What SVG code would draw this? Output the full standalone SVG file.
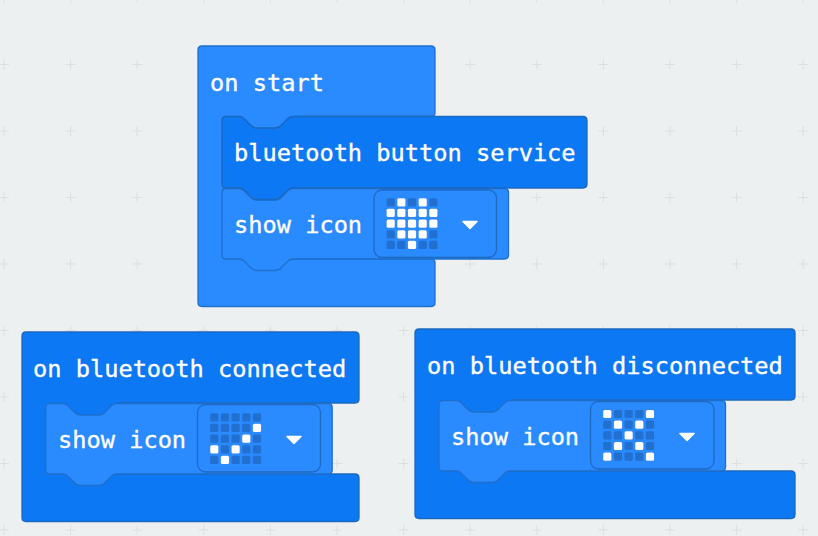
<svg xmlns="http://www.w3.org/2000/svg" xmlns:xlink="http://www.w3.org/1999/xlink" width="818" height="536" viewBox="0 0 818 536">
<style>
.bg{fill:#ecf0f1}
.light{fill:#2a8aff;stroke:#1f6fcc;stroke-width:1.3}
.dark{fill:#0d78f3;stroke:#1b68bf;stroke-width:1.3}
.field{fill:#2a8aff;stroke:#1e6ac0;stroke-width:1.3}
text{font-family:"DejaVu Sans Mono","Liberation Mono",monospace;font-size:23.65px;fill:#fff;stroke:#fff;stroke-width:.35}
.off{fill:#2170cf}
.on{fill:#fff}
.arrow{fill:#fff;stroke:#fff;stroke-width:1.5;stroke-linejoin:round}
.cross{stroke:#dcdfe1;stroke-width:1;fill:none}
</style>
<defs>
<path id="p" d="M-5 0H5M0 -5V5"/>
<rect id="c" x="-.1" y="-.1" width="8.200" height="8.200" rx="1.500"/>
<g id="board" class="off">
<use xlink:href="#c" x="0" y="0"/><use xlink:href="#c" x="10.67" y="0"/><use xlink:href="#c" x="21.33" y="0"/><use xlink:href="#c" x="32" y="0"/><use xlink:href="#c" x="42.67" y="0"/>
<use xlink:href="#c" x="0" y="10.67"/><use xlink:href="#c" x="10.67" y="10.67"/><use xlink:href="#c" x="21.33" y="10.67"/><use xlink:href="#c" x="32" y="10.67"/><use xlink:href="#c" x="42.67" y="10.67"/>
<use xlink:href="#c" x="0" y="21.33"/><use xlink:href="#c" x="10.67" y="21.33"/><use xlink:href="#c" x="21.33" y="21.33"/><use xlink:href="#c" x="32" y="21.33"/><use xlink:href="#c" x="42.67" y="21.33"/>
<use xlink:href="#c" x="0" y="32"/><use xlink:href="#c" x="10.67" y="32"/><use xlink:href="#c" x="21.33" y="32"/><use xlink:href="#c" x="32" y="32"/><use xlink:href="#c" x="42.67" y="32"/>
<use xlink:href="#c" x="0" y="42.67"/><use xlink:href="#c" x="10.67" y="42.67"/><use xlink:href="#c" x="21.33" y="42.67"/><use xlink:href="#c" x="32" y="42.67"/><use xlink:href="#c" x="42.67" y="42.67"/>
</g>
<path id="tri" d="M0 0H14L7 7Z"/>
<path id="stmt" d="M4 0H17.500Q20 0 22 2L28 8Q31 11.500 35 11.500H53Q57 11.500 60 8L66 2Q68 0 70.500 0H282.500Q286.500 0 286.500 4V66.500Q286.500 70.500 282.500 70.500H70.500Q68 70.500 66 72.500L60 78.500Q57 82 53 82H35Q31 82 28 78.500L22 72.500Q20 70.500 17.500 70.500H4Q0 70.500 0 66.500V4Q0 0 4 0Z"/>
</defs>
<rect class="bg" width="818" height="536"/>
<g id="grid" class="cross">
<use xlink:href="#p" x="4" y="-2"/><use xlink:href="#p" x="70.600" y="-2"/><use xlink:href="#p" x="137.200" y="-2"/><use xlink:href="#p" x="203.800" y="-2"/><use xlink:href="#p" x="270.400" y="-2"/><use xlink:href="#p" x="337" y="-2"/><use xlink:href="#p" x="403.600" y="-2"/><use xlink:href="#p" x="470.200" y="-2"/><use xlink:href="#p" x="536.800" y="-2"/><use xlink:href="#p" x="603.400" y="-2"/><use xlink:href="#p" x="670" y="-2"/><use xlink:href="#p" x="736.600" y="-2"/><use xlink:href="#p" x="803.200" y="-2"/>
<use xlink:href="#p" x="4" y="64.500"/><use xlink:href="#p" x="70.600" y="64.500"/><use xlink:href="#p" x="137.200" y="64.500"/><use xlink:href="#p" x="470.200" y="64.500"/><use xlink:href="#p" x="536.800" y="64.500"/><use xlink:href="#p" x="603.400" y="64.500"/><use xlink:href="#p" x="670" y="64.500"/><use xlink:href="#p" x="736.600" y="64.500"/><use xlink:href="#p" x="803.200" y="64.500"/>
<use xlink:href="#p" x="4" y="131"/><use xlink:href="#p" x="70.600" y="131"/><use xlink:href="#p" x="137.200" y="131"/><use xlink:href="#p" x="603.400" y="131"/><use xlink:href="#p" x="670" y="131"/><use xlink:href="#p" x="736.600" y="131"/><use xlink:href="#p" x="803.200" y="131"/>
<use xlink:href="#p" x="4" y="197.500"/><use xlink:href="#p" x="70.600" y="197.500"/><use xlink:href="#p" x="137.200" y="197.500"/><use xlink:href="#p" x="536.800" y="197.500"/><use xlink:href="#p" x="603.400" y="197.500"/><use xlink:href="#p" x="670" y="197.500"/><use xlink:href="#p" x="736.600" y="197.500"/><use xlink:href="#p" x="803.200" y="197.500"/>
<use xlink:href="#p" x="4" y="264"/><use xlink:href="#p" x="70.600" y="264"/><use xlink:href="#p" x="137.200" y="264"/><use xlink:href="#p" x="470.200" y="264"/><use xlink:href="#p" x="536.800" y="264"/><use xlink:href="#p" x="603.400" y="264"/><use xlink:href="#p" x="670" y="264"/><use xlink:href="#p" x="736.600" y="264"/><use xlink:href="#p" x="803.200" y="264"/>
<use xlink:href="#p" x="4" y="330.500"/><use xlink:href="#p" x="70.600" y="330.500"/><use xlink:href="#p" x="137.200" y="330.500"/><use xlink:href="#p" x="203.800" y="330.500"/><use xlink:href="#p" x="270.400" y="330.500"/><use xlink:href="#p" x="337" y="330.500"/><use xlink:href="#p" x="403.600" y="330.500"/><use xlink:href="#p" x="470.200" y="330.500"/><use xlink:href="#p" x="536.800" y="330.500"/><use xlink:href="#p" x="603.400" y="330.500"/><use xlink:href="#p" x="670" y="330.500"/><use xlink:href="#p" x="736.600" y="330.500"/><use xlink:href="#p" x="803.200" y="330.500"/>
<use xlink:href="#p" x="4" y="397"/><use xlink:href="#p" x="403.600" y="397"/><use xlink:href="#p" x="803.200" y="397"/>
<use xlink:href="#p" x="4" y="463.500"/><use xlink:href="#p" x="337" y="463.500"/><use xlink:href="#p" x="403.600" y="463.500"/><use xlink:href="#p" x="736.600" y="463.500"/><use xlink:href="#p" x="803.200" y="463.500"/>
<use xlink:href="#p" x="4" y="530"/><use xlink:href="#p" x="70.600" y="530"/><use xlink:href="#p" x="137.200" y="530"/><use xlink:href="#p" x="203.800" y="530"/><use xlink:href="#p" x="270.400" y="530"/><use xlink:href="#p" x="337" y="530"/><use xlink:href="#p" x="403.600" y="530"/><use xlink:href="#p" x="470.200" y="530"/><use xlink:href="#p" x="536.800" y="530"/><use xlink:href="#p" x="603.400" y="530"/><use xlink:href="#p" x="670" y="530"/><use xlink:href="#p" x="736.600" y="530"/><use xlink:href="#p" x="803.200" y="530"/>
</g>
<g id="connectors"/>
<g id="on-start">
<path class="light" d="M202 46H431Q435 46 435 50V112.500Q435 116.500 431 116.500H295V135H224V250H290V259H431Q435 259 435 263V302.500Q435 306.500 431 306.500H202Q198 306.500 198 302.500V50Q198 46 202 46Z"/>
<text x="210" y="91">on start</text>
</g>
<g id="show-icon-heart">
<use xlink:href="#stmt" class="light" x="222" y="188.500"/>
<text x="234" y="233">show icon</text>
<rect class="field" x="374" y="190" width="122.500" height="67.500" rx="8"/>
<g transform="translate(386.700 198.300)"><use xlink:href="#board"/>
<g class="on"><use xlink:href="#c" x="10.67" y="0"/><use xlink:href="#c" x="32" y="0"/><use xlink:href="#c" x="0" y="10.67"/><use xlink:href="#c" x="10.67" y="10.67"/><use xlink:href="#c" x="21.33" y="10.67"/><use xlink:href="#c" x="32" y="10.67"/><use xlink:href="#c" x="42.67" y="10.67"/><use xlink:href="#c" x="0" y="21.33"/><use xlink:href="#c" x="10.67" y="21.33"/><use xlink:href="#c" x="21.33" y="21.33"/><use xlink:href="#c" x="32" y="21.33"/><use xlink:href="#c" x="42.67" y="21.33"/><use xlink:href="#c" x="10.67" y="32"/><use xlink:href="#c" x="21.33" y="32"/><use xlink:href="#c" x="32" y="32"/><use xlink:href="#c" x="21.33" y="42.67"/></g></g>
<use xlink:href="#tri" class="arrow" x="463" y="221.500"/>
</g>
<g id="bluetooth-button-service">
<path class="dark" d="M226 116.500H239.500Q242 116.500 244 118.500L250 124.500Q253 128 257 128H275Q279 128 282 124.500L288 118.500Q290 116.500 292.500 116.500H583Q587 116.500 587 120.500V184Q587 188 583 188H292.500Q290 188 288 190L282 196Q279 199.500 275 199.500H257Q253 199.500 250 196L244 190Q242 188 239.500 188H226Q222 188 222 184V120.500Q222 116.500 226 116.500Z"/>
<text x="234" y="161">bluetooth button service</text>
</g>
<g id="on-bluetooth-connected">
<path class="dark" d="M26 332H355Q359 332 359 336V399Q359 403 355 403H119V420H48V465H114V474H355Q359 474 359 478V517.500Q359 521.500 355 521.500H26Q22 521.500 22 517.500V336Q22 332 26 332Z"/>
<text x="33" y="377">on bluetooth connected</text>
</g>
<g id="show-icon-check">
<use xlink:href="#stmt" class="light" x="45.700" y="403.500"/>
<text x="58" y="448">show icon</text>
<rect class="field" x="197.500" y="404.500" width="123" height="67.500" rx="8"/>
<g transform="translate(210.300 413.300)"><use xlink:href="#board"/>
<g class="on"><use xlink:href="#c" x="42.670" y="10.670"/><use xlink:href="#c" x="32" y="21.330"/><use xlink:href="#c" x="0" y="32"/><use xlink:href="#c" x="21.330" y="32"/><use xlink:href="#c" x="10.670" y="42.670"/></g></g>
<use xlink:href="#tri" class="arrow" x="287" y="436.500"/>
</g>
<g id="on-bluetooth-disconnected">
<path class="dark" d="M419 329H791Q795 329 795 333V396Q795 400 791 400H512V417H441V462H507V471H791Q795 471 795 475V514.500Q795 518.500 791 518.500H419Q415 518.500 415 514.500V333Q415 329 419 329Z"/>
<text x="427" y="374">on bluetooth disconnected</text>
</g>
<g id="show-icon-cross">
<use xlink:href="#stmt" class="light" x="439" y="400.500"/>
<text x="451" y="445">show icon</text>
<rect class="field" x="590.500" y="401.500" width="123.500" height="67.500" rx="8"/>
<g transform="translate(603.300 410)"><use xlink:href="#board"/>
<g class="on"><use xlink:href="#c" x="0" y="0"/><use xlink:href="#c" x="42.670" y="0"/><use xlink:href="#c" x="10.670" y="10.670"/><use xlink:href="#c" x="32" y="10.670"/><use xlink:href="#c" x="21.330" y="21.330"/><use xlink:href="#c" x="10.670" y="32"/><use xlink:href="#c" x="32" y="32"/><use xlink:href="#c" x="0" y="42.670"/><use xlink:href="#c" x="42.670" y="42.670"/></g></g>
<use xlink:href="#tri" class="arrow" x="680" y="433.500"/>
</g>
</svg>
